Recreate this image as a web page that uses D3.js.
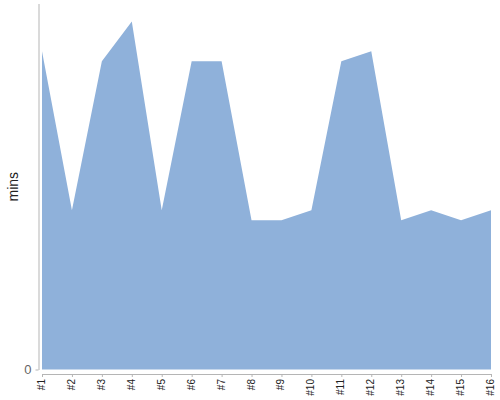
<!DOCTYPE html>
<html>
<head>
<meta charset="utf-8">
<script src="https://cdn.jsdelivr.net/npm/d3@7"></script>
<style>
  body { margin: 0; background: #fff; }
  svg { display: block; font-family: "Liberation Sans", Arial, sans-serif; }
</style>
</head>
<body>
<svg id="chart" width="500" height="400"></svg>
<script>
// labels and values (mins)
let categories = ["#1","#2","#3","#4","#5","#6","#7","#8","#9","#10","#11","#12","#13","#14","#15","#16"];
let mins = [32, 16, 31, 35, 16, 31, 31, 15, 15, 16, 31, 32, 15, 16, 15, 16];
let yTicks = [0];

// set the dimensions and margins of the graph
let margin = {top: 4, right: 9, bottom: 30.5, left: 42},
    width = 500 - margin.left - margin.right,
    height = 400 - margin.top - margin.bottom;

let svg = d3.select("#chart")
  .append("g")
    .attr("transform", "translate(" + margin.left + "," + margin.top + ")");

// set the ranges
let x = d3.scalePoint().domain(categories).range([0, width]);
let y = d3.scaleLinear().domain([0, d3.max(mins) * 1.05]).range([height, 0]);

let area = d3.area()
    .x(function(d, i) { return x(categories[i]); })
    .y0(height)
    .y1(function(d) { return y(d); });

svg.append("path")
    .datum(mins)
    .attr("fill", "#8fb1da")
    .attr("d", area);

// y axis, pulled a little left of the area
let yAxis = svg.append("g")
    .attr("transform", "translate(-3.5,0)")
    .call(d3.axisLeft(y).tickValues(yTicks).tickSize(3).tickPadding(4));
yAxis.select(".domain")
    .attr("stroke", "#b5b5b5")
    .attr("d", "M0.5,0V" + (height + 0.5));
yAxis.selectAll(".tick line").attr("stroke", "#b5b5b5");
yAxis.selectAll("text")
    .attr("fill", "#666")
    .style("font-size", "13px");

// x axis, a little below the area
let xAxis = svg.append("g")
    .attr("transform", "translate(0," + (height + 4.5) + ")")
    .call(d3.axisBottom(x).tickSize(3).tickSizeOuter(0));
xAxis.select(".domain").attr("stroke", "#b5b5b5");
xAxis.selectAll(".tick line").attr("stroke", "#b5b5b5");
xAxis.selectAll("text")
    .attr("fill", "#222")
    .style("font-size", "10px")
    .style("text-anchor", "end")
    .attr("dx", "-.5em")
    .attr("dy", "-.35em")
    .attr("transform", "rotate(-90)");

// y label
svg.append("text")
    .attr("transform", "rotate(-90)")
    .attr("x", -height / 2)
    .attr("y", -24)
    .attr("text-anchor", "middle")
    .attr("fill", "#222")
    .style("font-size", "14px")
    .text("mins");
</script>
</body>
</html>
